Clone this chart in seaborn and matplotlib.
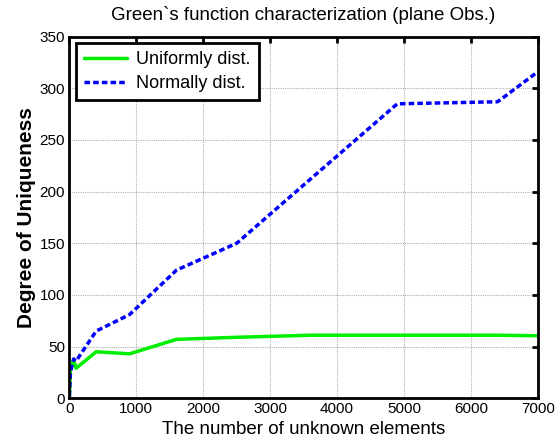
import matplotlib
matplotlib.use("Agg")
import matplotlib.pyplot as plt
import seaborn as sns
import pandas as pd

# Data
n_elements = [1, 16, 64, 100, 400, 900, 1600, 2500, 3600, 4900, 6400, 7000]
uniform_vals = [2, 30, 37, 29, 45, 43, 57, 59, 61, 61, 61, 60.5]
normal_vals = [2, 25, 38, 36, 65, 81, 124, 150, 212, 285, 287, 316]
series_names = ["Uniformly dist.", "Normally dist."]

df = pd.concat([
    pd.DataFrame({"x": n_elements, "y": uniform_vals, "series": series_names[0]}),
    pd.DataFrame({"x": n_elements, "y": normal_vals, "series": series_names[1]}),
])

sns.set_style("white")
plt.rcParams['font.family'] = ['Liberation Sans', 'DejaVu Sans']
plt.rcParams['text.color'] = 'black'
plt.rcParams['axes.labelcolor'] = 'black'
plt.rcParams['xtick.color'] = 'black'
plt.rcParams['ytick.color'] = 'black'

fig = plt.figure(figsize=(5.55, 4.42), dpi=100)
ax = fig.add_axes([0.125, 0.099, 0.844, 0.818])

palette = {series_names[0]: "#00ee00", series_names[1]: "#0000ff"}
sns.lineplot(data=df, x="x", y="y", hue="series", palette=palette, ax=ax,
             linewidth=2.5, legend=False, sort=False)
lines = ax.get_lines()
lines[1].set_linestyle((0, (1.6, 0.9)))

ax.set_xlim(0, 7000)
ax.set_ylim(0, 350)
ax.set_xticks(range(0, 7001, 1000))
ax.set_yticks(range(0, 351, 50))
ax.grid(True, color="#b0b0b0", linestyle=(0, (1, 1)), linewidth=0.8)
for s in ax.spines.values():
    s.set_linewidth(2)
    s.set_color("black")
    s.set_visible(True)
ax.tick_params(direction="in", length=4, width=2, top=True, right=True,
               labelsize=11, pad=3, colors="black")

ax.set_title("Green`s function characterization (plane Obs.)", fontsize=13.5, pad=12, color="black")
ax.set_xlabel("The number of unknown elements", fontsize=13.5, labelpad=3, color="black")
ax.set_ylabel("Degree of Uniqueness", fontsize=15, fontweight="bold", labelpad=3, color="black")

leg = ax.legend(lines, series_names, loc="upper left", fontsize=13,
                frameon=True, fancybox=False, framealpha=1, edgecolor="black",
                borderaxespad=0.35, handlelength=2.4, borderpad=0.45,
                labelspacing=0.4, handletextpad=0.5)
leg.get_frame().set_linewidth(2)
for t in leg.get_texts():
    t.set_color("black")

fig.savefig("out.png", dpi=100)
